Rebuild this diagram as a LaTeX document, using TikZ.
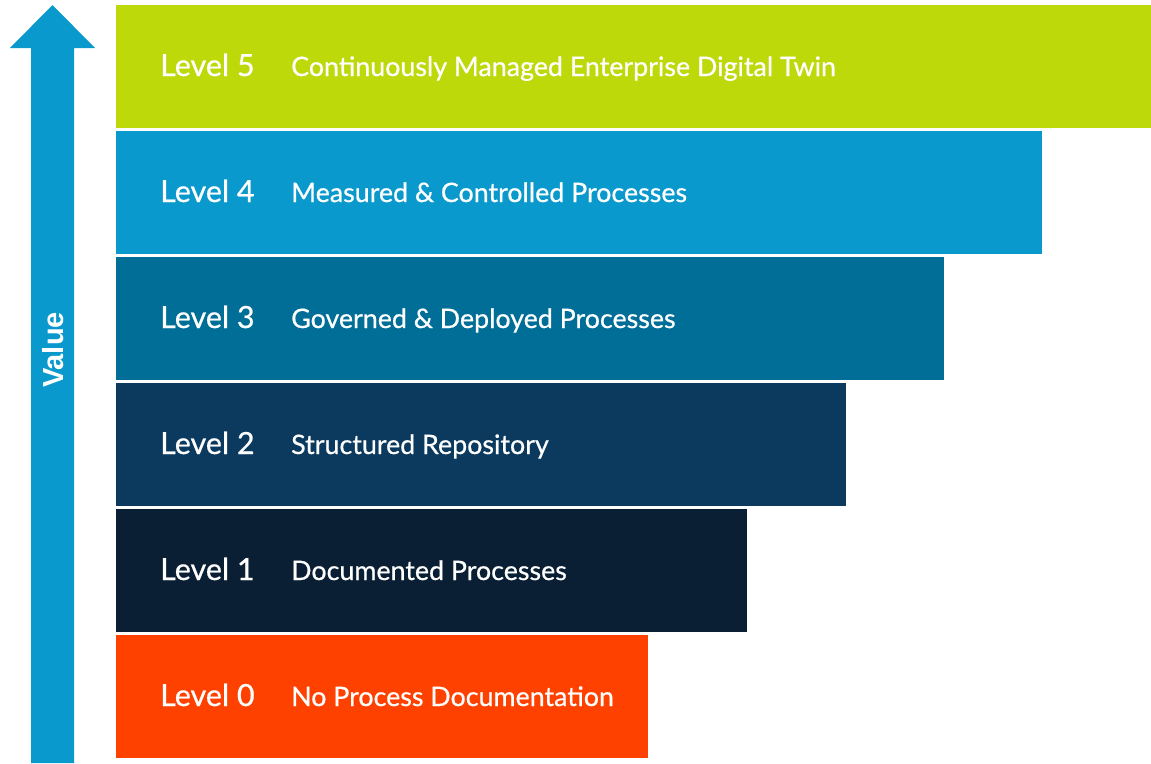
\documentclass[tikz,border=0pt]{standalone}
\usepackage{fontspec}
\setmainfont{Lato}[FakeBold=0.6]
\newfontfamily\arialbold{Liberation Sans}[BoldFont={* Bold}]
\definecolor{lvlfive}{HTML}{BDD90A}
\definecolor{lvlfour}{HTML}{0999CC}
\definecolor{lvlthree}{HTML}{006E96}
\definecolor{lvltwo}{HTML}{0B3A5E}
\definecolor{lvlone}{HTML}{0A1F33}
\definecolor{lvlzero}{HTML}{FF4100}
\definecolor{arrowblue}{HTML}{0999CC}
\tikzset{
  x=1pt, y=-1pt,
  bar/.style={inner sep=0pt, outer sep=0pt, anchor=north west, minimum height=123pt},
  lvltext/.style={anchor=base west, text=white, font=\fontsize{30.5}{34}\selectfont, inner sep=0pt},
  desctext/.style={anchor=base west, text=white, font=\fontsize{26.8}{30}\selectfont, inner sep=0pt},
}
\begin{document}
\begin{tikzpicture}
\useasboundingbox (0,0) rectangle (1151,763);
% value arrow
\fill[arrowblue] (31,763) -- (31,48) -- (10,48) -- (52.5,5) -- (95,48) -- (74,48) -- (74,763) -- cycle;
\node[rotate=90, text=white, font=\arialbold\bfseries\fontsize{29}{34}\selectfont, inner sep=0pt] (value) at (53,350) {Value};
% bars
\node[bar, fill=lvlfive,  minimum width=1035pt] (b5) at (116,5) {};
\node[bar, fill=lvlfour,  minimum width=926pt]  (b4) at (116,131) {};
\node[bar, fill=lvlthree, minimum width=828pt]  (b3) at (116,257) {};
\node[bar, fill=lvltwo,   minimum width=730pt]  (b2) at (116,383) {};
\node[bar, fill=lvlone,   minimum width=631pt]  (b1) at (116,509) {};
\node[bar, fill=lvlzero,  minimum width=532pt]  (b0) at (116,635) {};
% texts
\node[lvltext] (l5) at (160,76) {Level 5};
\node[lvltext] (l4) at (160,202) {Level 4};
\node[lvltext] (l3) at (160,328) {Level 3};
\node[lvltext] (l2) at (160,454) {Level 2};
\node[lvltext] (l1) at (160,580) {Level 1};
\node[lvltext] (l0) at (160,706) {Level 0};
\node[desctext] (d5) at (291,76) {Continuously Managed Enterprise Digital Twin};
\node[desctext] (d4) at (291,202) {Measured \& Controlled Processes};
\node[desctext] (d3) at (291,328) {Governed \& Deployed Processes};
\node[desctext] (d2) at (291,454) {Structured Repository};
\node[desctext] (d1) at (291,580) {Documented Processes};
\node[desctext] (d0) at (291,706) {No Process Documentation};
\end{tikzpicture}
\end{document}
